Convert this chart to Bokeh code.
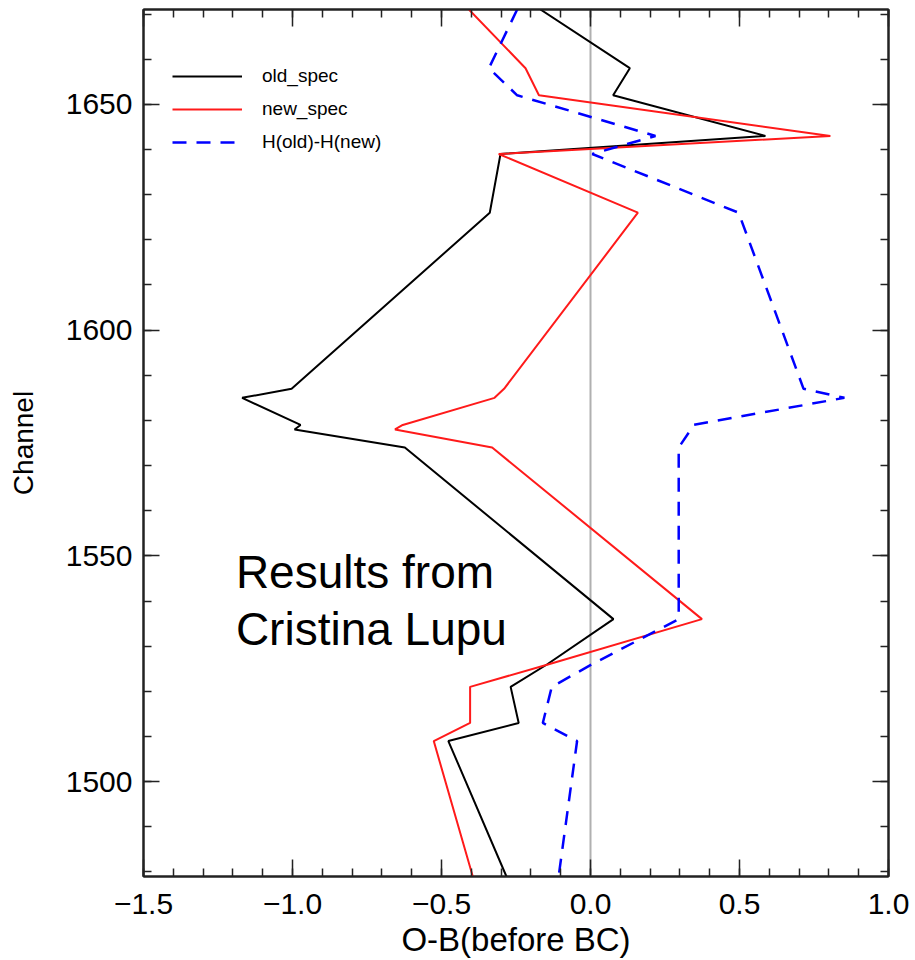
import numpy as np
from bokeh.plotting import figure
from bokeh.models import (ColumnDataSource, FixedTicker, LinearAxis, Range1d,
                          Span, Label, Legend, LegendItem)
from bokeh.embed import file_html
from bokeh.resources import INLINE

# ---- data ----
channel = [1671, 1658, 1652, 1643, 1639, 1626, 1587, 1585, 1579, 1578,
           1574, 1536, 1526, 1521, 1513, 1509, 1479]
old_spec = [-0.168, 0.132, 0.076, 0.587, -0.302, -0.338, -1.003, -1.169, -0.973, -0.993,
            -0.623, 0.077, -0.145, -0.268, -0.241, -0.477, -0.282]
new_spec = [-0.408, -0.218, -0.173, 0.805, -0.308, 0.159, -0.290, -0.322, -0.630, -0.656,
            -0.330, 0.374, -0.140, -0.404, -0.404, -0.526, -0.395]
h_diff = [-0.246, -0.341, -0.246, 0.218, 0.006, 0.497, 0.715, 0.852, 0.345, 0.337,
          0.296, 0.296, 0.005, -0.130, -0.160, -0.045, -0.107]

series_names = ["old_spec", "new_spec", "H(old)-H(new)"]

x_tick_values = [-1.5, -1.0, -0.5, 0.0, 0.5, 1.0]
x_tick_labels = ["\u22121.5", "\u22121.0", "\u22120.5", "0.0", "0.5", "1.0"]
y_tick_values = [1500, 1550, 1600, 1650]
y_tick_labels = ["1500", "1550", "1600", "1650"]

annotation_lines = ["Results from", "Cristina Lupu"]

FONT = "Liberation Sans"

src = ColumnDataSource(dict(channel=channel, old=old_spec, new=new_spec, diff=h_diff))

p = figure(width=915, height=960,
           x_range=Range1d(-1.5, 1.0), y_range=Range1d(1479, 1671),
           output_backend="svg", toolbar_location=None,
           min_border_left=143, min_border_right=27,
           min_border_top=9, min_border_bottom=83,
           x_axis_label="O-B(before BC)", y_axis_label="Channel")
p.background_fill_color = "white"
p.border_fill_color = "white"
p.outline_line_color = "#222222"
p.outline_line_width = 2
p.xgrid.visible = False
p.ygrid.visible = False

x_minor = [round(v, 1) for v in np.arange(-1.5, 1.0001, 0.1)]
y_minor = list(range(1480, 1671, 10))
xticker = FixedTicker(ticks=x_tick_values, minor_ticks=x_minor)
yticker = FixedTicker(ticks=y_tick_values, minor_ticks=y_minor)


def style_axis(ax, ticker, labels=None, show_labels=True, major_len=16):
    ax.ticker = ticker
    ax.axis_line_color = "#222222"
    ax.axis_line_width = 2
    ax.major_tick_line_color = "#222222"
    ax.minor_tick_line_color = "#222222"
    ax.major_tick_line_width = 1.5
    ax.minor_tick_line_width = 1.5
    ax.major_tick_in = major_len
    ax.major_tick_out = 0
    ax.minor_tick_in = 8
    ax.minor_tick_out = 0
    if labels is not None:
        ax.major_label_overrides = labels
    ax.major_label_text_font = FONT
    ax.major_label_text_color = "black"
    if not show_labels:
        ax.major_label_text_color = None
        ax.major_label_text_font_size = "1px"
        ax.major_label_standoff = 0


xlab = {v: t for v, t in zip(x_tick_values, x_tick_labels)}
ylab = {v: t for v, t in zip(y_tick_values, y_tick_labels)}

xa = p.xaxis[0]
style_axis(xa, xticker, xlab, major_len=17)
xa.major_label_text_font_size = "30px"
xa.major_label_standoff = 17
xa.axis_label_text_font = FONT
xa.axis_label_text_font_size = "33px"
xa.axis_label_text_font_style = "normal"
xa.axis_label_text_color = "black"
xa.axis_label_standoff = 4

ya = p.yaxis[0]
style_axis(ya, yticker, ylab)
ya.major_label_text_font_size = "30px"
ya.major_label_standoff = 11
ya.axis_label_text_font = FONT
ya.axis_label_text_font_size = "28px"
ya.axis_label_text_font_style = "normal"
ya.axis_label_text_color = "black"
ya.axis_label_standoff = 24

top_axis = LinearAxis()
style_axis(top_axis, xticker, show_labels=False, major_len=17)
p.add_layout(top_axis, "above")
right_axis = LinearAxis()
style_axis(right_axis, yticker, show_labels=False)
p.add_layout(right_axis, "right")

zero_line = Span(location=0, dimension="height", line_color="#b0b0b0",
                 line_width=2, level="underlay")
p.add_layout(zero_line)

r_old = p.line("old", "channel", source=src, line_color="black", line_width=2)
r_new = p.line("new", "channel", source=src, line_color="#ff1a1a", line_width=2)
r_diff = p.line("diff", "channel", source=src, line_color="#0000ff", line_width=2.5,
                line_dash="14 10")

legend = Legend(items=[LegendItem(label=series_names[0], renderers=[r_old]),
                       LegendItem(label=series_names[1], renderers=[r_new]),
                       LegendItem(label=series_names[2], renderers=[r_diff])],
                location=(29, 723))
legend.border_line_color = None
legend.background_fill_alpha = 0
legend.padding = 0
legend.margin = 0
legend.spacing = 11
legend.glyph_width = 70
legend.glyph_height = 22
legend.label_height = 22
legend.label_standoff = 20
legend.label_text_font = FONT
legend.label_text_font_size = "19px"
legend.label_text_color = "black"
p.add_layout(legend)

for txt, yy in zip(annotation_lines, [1546.5, 1533.9]):
    p.add_layout(Label(x=-1.19, y=yy, text=txt, text_font=FONT,
                       text_font_size="46px", text_color="black",
                       text_baseline="alphabetic", text_align="left"))

open("out.html", "w").write(file_html(p, INLINE))
